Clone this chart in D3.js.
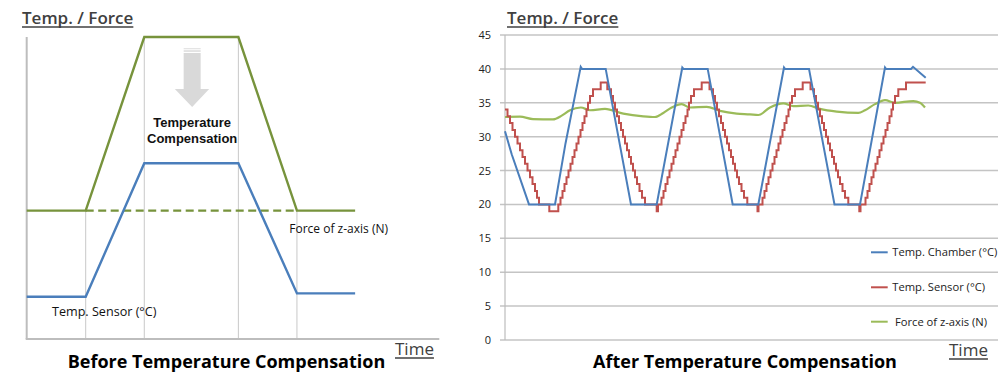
<!DOCTYPE html>
<html><head><meta charset="utf-8">
<script src="https://cdn.jsdelivr.net/npm/d3@7"></script>
<style>
body{margin:0;background:#fff;}
text{font-family:"Open Sans","Noto Sans",sans-serif;}
text.ann{font-family:"Liberation Sans",Arial,sans-serif;}
</style></head><body>
<svg id="c" width="1006" height="383"></svg>
<script>
// ---------- LEFT (schematic, arbitrary units) ----------
const leftForce = [[0,42.5],[14.3,42.5],[28.5,100],[51.3,100],[65.5,42.5],[79.6,42.5]];
const leftForceDashed = [[14.3,42.5],[65.5,42.5]];
const leftSensor = [[0,14],[14.3,14],[28.5,58.2],[51.3,58.2],[65.5,15.1],[79.6,15.1]];
const leftGuides = [[14.3,42.5],[28.5,100],[51.3,100],[65.5,42.5]];

// ---------- RIGHT (measured data) ----------
const yTicks = [0,5,10,15,20,25,30,35,40,45];
const seriesNames = ["Temp. Chamber (°C)","Temp. Sensor (°C)","Force of z-axis (N)"];
const chamber = [[0,30.8],[6.7,27.4],[24,20],[50,20],[60.5,29],[75.7,40.3],[77,40],[100.7,40],[126,20],[151.7,20],
 [177.3,40.2],[178.5,40],[202.7,40],[227.7,20],[253.3,20],[279,40.2],[280,40],[304,40],[329.5,20],[355,20],
 [380,40.2],[381,40],[406,40],[408,40.3],[420.7,38.7]];
const sensor = [[0,34],[2.5,33],[5,32],[7.5,31],[10,30],[12.5,29],[15,28],[17.5,27],[20,26],[22.5,25],[25,24],[27.5,23],[30,22],[32,21],[34,20],
 [44.3,19],[53.3,20],[55.5,21],[57.5,22],[59.5,23],[61.5,24],[63.5,25],[65.5,26],[67.5,27],[69.5,28],[71.5,29],[73.5,30],[75.5,31],[77.5,32],[79.5,33],[81.5,34],[83,35],[85,36],[88,37],[95.7,38],
 [102.3,37],[106,36],[108,35],[110,34],[112,33],[114,32],[116,31],[118,30],[120,29],[122,28],[124,27],[126,26],[128,25],[130,24],[132,23],[134.5,22],[137,21],[140,20],
 [151.7,19],[153,20],[156.5,21],[158.5,22],[160.5,23],[162.5,24],[164.5,25],[166.5,26],[168.5,27],[170.5,28],[172.5,29],[174.5,30],[176.5,31],[178.5,32],[180.5,33],[182.5,34],[184,35],[186,36],[189,37],[196.7,38],
 [204.5,37],[208,36],[210,35],[212,34],[214,33],[216,32],[218,31],[220,30],[222,29],[224,28],[226,27],[228,26],[230,25],[232,24],[234,23],[236.5,22],[239,21],[242.3,20],
 [252.5,19],[253.5,20],[257.5,21],[259.5,22],[261.5,23],[263.5,24],[265.5,25],[267.5,26],[269.5,27],[271.5,28],[273.5,29],[275.5,30],[277.5,31],[279.5,32],[281.5,33],[283.5,34],[285,35],[287,36],[290,37],[297.7,38],
 [305.5,37],[309,36],[311,35],[313,34],[315,33],[317,32],[319,31],[321,30],[323,29],[325,28],[327,27],[329,26],[331,25],[333,24],[335,23],[337.5,22],[340,21],[343.3,20],
 [354.3,19],[355.5,20],[360.5,21],[362.5,22],[364.5,23],[366.5,24],[368.5,25],[370.5,26],[372.5,27],[374.5,28],[376.5,29],[378.5,30],[380.5,31],[382.5,32],[384.5,33],[386.5,34],[388,35],[390,36],[393.3,37],[401,38],[420.7,38]];
const force = [[0,32.9],[15,32.95],[28,32.6],[48,32.55],[56.7,33.1],[65,33.9],[75.8,34.3],[85,33.9],[100,34.1],[118.3,33.4],[138.3,33.0],[150,32.9],
 [158.3,33.5],[166.7,34.3],[176.7,34.8],[185,34.3],[201.7,34.4],[215,33.8],[231.7,33.4],[245,33.3],[253.3,33.2],[265,34.3],[278.3,34.9],[288.3,34.5],
 [303.3,34.6],[315,34.1],[331.7,33.7],[353.3,33.5],[360,33.9],[370,34.8],[380,35.4],[390,35.0],[408.3,35.25],[415,35.0],[420,34.3]];

const svg = d3.select("#c");
svg.append("rect").attr("width",1006).attr("height",383).attr("fill","#fff");

// ===== LEFT PANEL =====
const xL = d3.scaleLinear().domain([0,100]).range([26.7,439.3]);
const yL = d3.scaleLinear().domain([0,100]).range([339,37]);
const L = svg.append("g");
L.selectAll("line.g").data(leftGuides).join("line")
  .attr("x1",d=>xL(d[0])).attr("x2",d=>xL(d[0])).attr("y1",d=>yL(d[1])).attr("y2",yL(0))
  .attr("stroke","#c8c8c8").attr("stroke-width",1);
L.append("line").attr("x1",xL(0)).attr("x2",xL(0)).attr("y1",yL(100)).attr("y2",yL(0)).attr("stroke","#bdbdbd").attr("stroke-width",2);
L.append("line").attr("x1",xL(0)-1).attr("x2",xL(100)).attr("y1",yL(0)).attr("y2",yL(0)).attr("stroke","#bdbdbd").attr("stroke-width",2);
const lineL = d3.line().x(d=>xL(d[0])).y(d=>yL(d[1]));
L.append("path").attr("d",lineL(leftForceDashed)).attr("fill","none").attr("stroke","#77933c").attr("stroke-width",2.2).attr("stroke-dasharray","8,4.5");
L.append("path").attr("d",lineL(leftForce)).attr("fill","none").attr("stroke","#77933c").attr("stroke-width",2.4);
L.append("path").attr("d",lineL(leftSensor)).attr("fill","none").attr("stroke","#4a7ebb").attr("stroke-width",2.4);
// arrow
const ax = xL(40.1), at = yL(96);
const arrowG = L.append("g").attr("fill","#d9d9d9");
arrowG.append("rect").attr("x",ax-8.5).attr("y",at-1).attr("width",17).attr("height",1.2).attr("fill","#e2e2e2");
arrowG.append("rect").attr("x",ax-8.5).attr("y",at+1.2).attr("width",17).attr("height",1.5).attr("fill","#dcdcdc");
arrowG.append("path").attr("d",`M${ax-8.5},${at+4} H${ax+8.5} V${at+40} H${ax+17} L${ax},${at+58} L${ax-17.3},${at+40} H${ax-8.5} Z`);
L.append("text").attr("class","ann").attr("x",ax).attr("y",127).attr("text-anchor","middle").attr("font-size",13).attr("font-weight",700).attr("fill","#111").text("Temperature");
L.append("text").attr("class","ann").attr("x",ax).attr("y",142.5).attr("text-anchor","middle").attr("font-size",13).attr("font-weight",700).attr("fill","#111").text("Compensation");
L.append("text").attr("x",289.3).attr("y",232.5).attr("font-size",12).attr("fill","#111").text("Force of z-axis (N)");
L.append("text").attr("x",52).attr("y",315.5).attr("font-size",12.6).attr("fill","#111").text("Temp. Sensor (°C)");
function uText(g,x,y,txt,size,weight){
  const t = g.append("text").attr("x",x).attr("y",y).attr("font-size",size).attr("font-weight",weight||400).attr("fill","#404040").text(txt);
  const bb = t.node().getBBox();
  g.append("line").attr("x1",bb.x).attr("x2",bb.x+bb.width).attr("y1",y+3).attr("y2",y+3).attr("stroke","#404040").attr("stroke-width",1.5);
}
uText(L,22,24,"Temp. / Force",17,600);
uText(L,395,355,"Time",17);
L.append("text").attr("x",226.5).attr("y",368.3).attr("text-anchor","middle").attr("font-size",18).attr("font-weight",700).attr("fill","#000").text("Before Temperature Compensation");

// ===== RIGHT PANEL =====
const xR = d3.scaleLinear().domain([0,493]).range([505,998]);
const yR = d3.scaleLinear().domain([0,45]).range([340,35]);
const R = svg.append("g");
R.selectAll("line.grid").data(yTicks).join("line")
  .attr("x1",xR(0)-5).attr("x2",xR(493)).attr("y1",d=>yR(d)).attr("y2",d=>yR(d))
  .attr("stroke","#c4c4c4").attr("stroke-width",1.5);
R.append("line").attr("x1",xR(0)).attr("x2",xR(0)).attr("y1",yR(45)).attr("y2",yR(0)).attr("stroke","#bdbdbd").attr("stroke-width",1.2);
const yAxis = R.append("g").attr("transform",`translate(${xR(0)},0)`)
  .call(d3.axisLeft(yR).tickValues(yTicks).tickSize(0).tickPadding(14));
yAxis.select(".domain").remove();
yAxis.selectAll("text").attr("font-size",11).attr("fill","#222").attr("font-family","'Open Sans',sans-serif");

R.append("path").attr("d",d3.line().x(d=>xR(d[0])).y(d=>yR(d[1])).curve(d3.curveMonotoneX)(force)).attr("fill","none").attr("stroke","#9bbb59").attr("stroke-width",2.2);
R.append("path").attr("d",d3.line().x(d=>xR(d[0])).y(d=>yR(d[1])).curve(d3.curveStepAfter)(sensor)).attr("fill","none").attr("stroke","#c0504d").attr("stroke-width",2);
R.append("path").attr("d",d3.line().x(d=>xR(d[0])).y(d=>yR(d[1]))(chamber)).attr("fill","none").attr("stroke","#4a7ebb").attr("stroke-width",2);

const legColors = ["#4a7ebb","#c0504d","#9bbb59"];
const legY = [252.3,287.3,321.7];
const legTX = [892.3,892.3,895];
seriesNames.forEach((n,i)=>{
  R.append("line").attr("x1",871).attr("x2",887.7).attr("y1",legY[i]).attr("y2",legY[i]).attr("stroke",legColors[i]).attr("stroke-width",2);
  R.append("text").attr("x",legTX[i]).attr("y",legY[i]+4).attr("font-size",11.2).attr("fill","#222").text(n);
});
uText(R,507,24,"Temp. / Force",17,600);
uText(R,949,356,"Time",17);
R.append("text").attr("x",745).attr("y",368.3).attr("text-anchor","middle").attr("font-size",18).attr("font-weight",700).attr("fill","#000").text("After Temperature Compensation");
</script>
</body></html>
